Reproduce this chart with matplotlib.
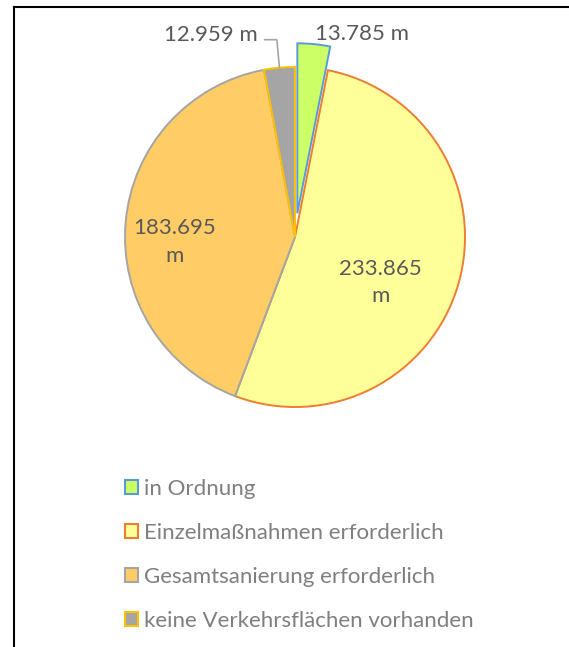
import matplotlib
matplotlib.use("Agg")
import numpy as np
import matplotlib.pyplot as plt
from matplotlib.patches import Patch
from matplotlib.lines import Line2D

# data
categories = ["in Ordnung", "Einzelmaßnahmen erforderlich",
              "Gesamtsanierung erforderlich", "keine Verkehrsflächen vorhanden"]
values = [13785, 233865, 183695, 12959]

fills = ["#ccff66", "#ffff99", "#ffcc66", "#a5a5a5"]
edges = ["#5b9bd5", "#ed7d31", "#a5a5a5", "#ffc000"]
explode = [0.14, 0, 0, 0]

def fmt(v):
    return "{:,}".format(v).replace(",", ".")

# label placement: (radius, angle offset from wedge middle, ha, text)
label_style = [
    (1.2, 0, "left", fmt(values[0]) + " m"),
    (0.57, -12, "center", fmt(values[1]) + "\nm"),
    (0.71, 7.5, "center", fmt(values[2]) + "\nm"),
    (None, 0, "right", fmt(values[3]) + " m"),
]

plt.rcParams['font.family'] = ['Lato', 'DejaVu Sans']
FS = 16

W, H = 569, 647
cx, cy, R = 295, 237, 170
fig = plt.figure(figsize=(W / 100, H / 100), dpi=100)
ax = fig.add_axes([0, 0, 1, 1])

wedges, _ = ax.pie(values, startangle=90, counterclock=False, explode=explode,
                   colors=fills, wedgeprops=dict(linewidth=1.4))
for w, ec in zip(wedges, edges):
    w.set_edgecolor(ec)

ax.set_xlim(-cx / R, (W - cx) / R)
ax.set_ylim(-(H - cy) / R, cy / R)
ax.axis('off')

txt_col = "#595959"
for w, (r, off, ha, s) in zip(wedges, label_style):
    mid = np.deg2rad((w.theta1 + w.theta2) / 2)
    if r is None:
        # outside label with leader line
        ex, ey = np.cos(mid), np.sin(mid)
        ax.annotate(s, xy=(ex, ey), xytext=(-0.22, 1.19), ha=ha, va='center',
                    fontsize=FS, color=txt_col,
                    arrowprops=dict(arrowstyle='-', color='#a5a5a5', lw=1.2,
                                    shrinkA=3, shrinkB=0, relpos=(1, 0.25),
                                    connectionstyle="angle,angleA=0,angleB=%.1f,rad=0"
                                    % np.rad2deg(mid)))
        continue
    a = mid + np.deg2rad(off)
    ax.text(r * np.cos(a), r * np.sin(a), s, ha=ha, va='center', fontsize=FS,
            color=txt_col, linespacing=1.45)

handles = [Patch(facecolor=f, edgecolor=e, lw=1.5) for f, e in zip(fills, edges)]
leg = fig.legend(handles, categories, loc='upper left',
                 bbox_to_anchor=(114 / W, 1 - 468 / H), frameon=False,
                 fontsize=FS, handlelength=0.6, handleheight=0.6,
                 handletextpad=0.25, labelspacing=1.08, borderpad=0)
for t in leg.get_texts():
    t.set_color("#7f7f7f")

# chart frame (top and left edge visible)
fig.add_artist(Line2D([14 / W, 1], [1 - 7 / H, 1 - 7 / H], transform=fig.transFigure,
                      color='black', lw=1.5))
fig.add_artist(Line2D([14 / W, 14 / W], [1 - 7 / H, 0], transform=fig.transFigure,
                      color='black', lw=1.5))

fig.savefig("out.png", dpi=100)
